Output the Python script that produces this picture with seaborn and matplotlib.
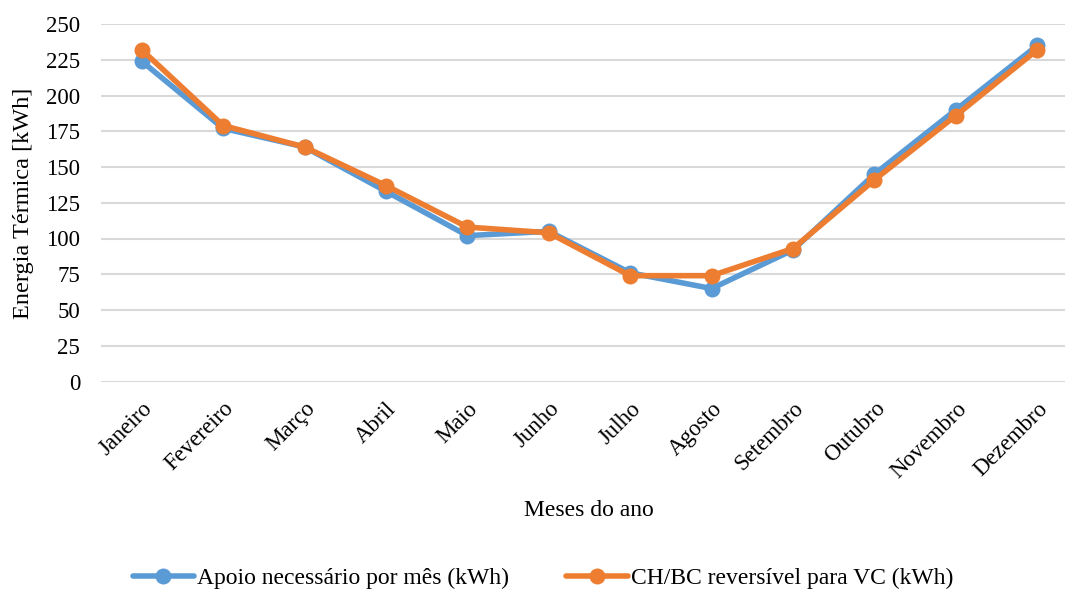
import matplotlib
matplotlib.use("Agg")
import matplotlib.pyplot as plt
import seaborn as sns
import pandas as pd

meses = ["Janeiro", "Fevereiro", "Março", "Abril", "Maio", "Junho",
         "Julho", "Agosto", "Setembro", "Outubro", "Novembro", "Dezembro"]
apoio = [224, 177, 164, 133, 102, 105, 76, 65, 92, 145, 190, 235]
chbc = [232, 179, 164, 137, 108, 104, 74, 74, 93, 141, 186, 232]
serie_nomes = ["Apoio necessário por mês (kWh)", "CH/BC reversível para VC (kWh)"]
cores = ["#5B9BD5", "#ED7D31"]
y_ticks = [0, 25, 50, 75, 100, 125, 150, 175, 200, 225, 250]

sns.set_theme(style="white")
plt.rcParams['font.family'] = ['Liberation Serif', 'DejaVu Serif']
plt.rcParams['text.color'] = 'black'
plt.rcParams['xtick.color'] = 'black'
plt.rcParams['ytick.color'] = 'black'

df = pd.DataFrame({
    "mes": meses * 2,
    "pos": list(range(len(meses))) * 2,
    "valor": apoio + chbc,
    "serie": [serie_nomes[0]] * len(meses) + [serie_nomes[1]] * len(meses),
})

W, H = 1065, 590
fig = plt.figure(figsize=(W / 100, H / 100), dpi=100)
ax = fig.add_axes([101 / W, (590 - 381.5) / H, (1078 - 101) / W, (381.5 - 24) / H])

sns.lineplot(data=df, x="pos", y="valor", hue="serie", palette=cores,
             marker="o", markersize=11.5, markeredgewidth=0, linewidth=4,
             ax=ax, legend=True, sort=False)

ax.set_xlim(-0.5, len(meses) - 0.5)
ax.set_ylim(0, 250)
ax.set_yticks(y_ticks)
ax.set_yticklabels([str(v) for v in y_ticks], fontsize=16.5)
ax.set_xticks(range(len(meses)))
ax.set_xticklabels(meses, fontsize=16.5, rotation=45, ha="right",
                   rotation_mode="anchor")
ax.tick_params(axis="x", length=0, pad=12)
ax.tick_params(axis="y", length=0, pad=15)
ax.grid(axis="y", color="#d9d9d9", linewidth=1.5)
ax.grid(axis="x", visible=False)
for s in ax.spines.values():
    s.set_visible(False)
ax.set_axisbelow(True)

ax.set_xlabel("")
ax.set_ylabel("")
fig.text(589 / W, 1 - 511 / H, "Meses do ano", fontsize=17, ha="center", va="center")
fig.text(24 / W, 1 - 203 / H, "Energia Térmica [kWh]", fontsize=17.5, ha="center",
         va="center", rotation=90)

handles, labels = ax.get_legend_handles_labels()
ax.get_legend().remove()
fig.legend(handles, labels, loc="center", bbox_to_anchor=(543 / W, 1 - 578 / H),
           ncol=2, frameon=False, fontsize=17, handlelength=2.6,
           handletextpad=0.15, columnspacing=2.4)

fig.savefig("out.png", dpi=100)
